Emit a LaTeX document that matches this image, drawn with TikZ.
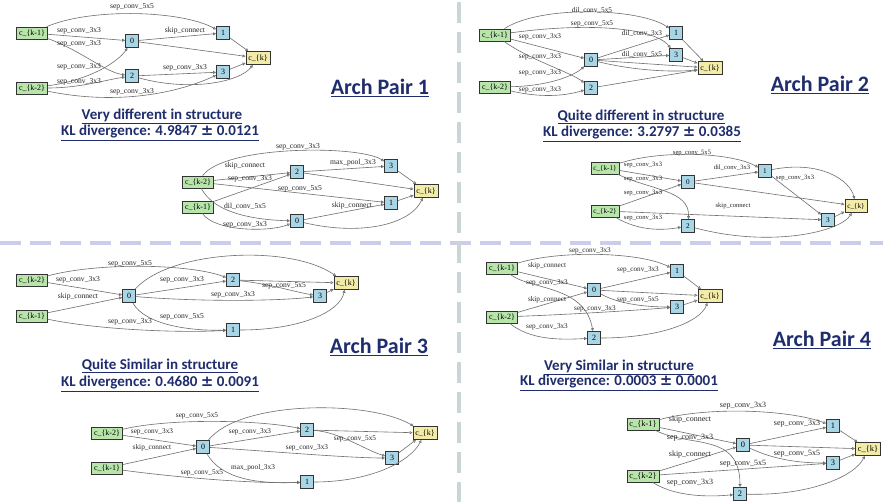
\documentclass[tikz,border=0pt]{standalone}
\usepackage{fontspec}
\setmainfont{Liberation Serif}
\newfontfamily\titlefont{Carlito}
\newfontfamily\pmfont{DejaVu Sans}
\usetikzlibrary{arrows.meta}
\definecolor{ingreen}{RGB}{184,230,170}
\definecolor{midblue}{RGB}{168,214,230}
\definecolor{outyellow}{RGB}{243,236,168}
\definecolor{edgegray}{RGB}{110,110,110}
\definecolor{navy}{RGB}{31,45,110}
\definecolor{sepcolh}{RGB}{202,206,236}
\definecolor{sepcolv}{RGB}{202,213,214}
\newcommand{\pmsign}{{\pmfont\bfseries ±}}
\def\gsz{7.5}
\def\nsz{8}
\tikzset{
  nbox/.style={draw=black!80, line width=0.7pt, inner xsep=2.5pt, inner ysep=0pt, minimum height=12, font=\fontsize{\nsz}{\nsz}\selectfont},
  inb/.style={nbox, fill=ingreen},
  midb/.style={nbox, fill=midblue, minimum width=13, minimum height=13},
  outb/.style={nbox, fill=outyellow, minimum height=13},
  edg/.style={draw=edgegray, line width=0.6pt, -{Triangle[open,length=3pt,width=3pt]}},
  lbl/.style={font=\fontsize{\gsz}{\gsz}\selectfont, inner sep=0pt, text=black!85},
  ttl/.style={font=\titlefont\bfseries\fontsize{22}{24}\selectfont, text=navy, inner sep=0pt},
  capt/.style={font=\titlefont\bfseries\fontsize{15}{17}\selectfont, text=navy, inner sep=0pt},
  sepline/.style={line width=4pt, dash pattern=on 21pt off 9pt}
}
\begin{document}
\begin{tikzpicture}[x=1pt,y=-1pt]
\useasboundingbox[fill=white] (0,0) rectangle (883,502);
\draw[sepline, draw=sepcolh] (0,243) -- (883,243);
\draw[sepline, draw=sepcolv] (459,2) -- (459,502);

% ---------- Pair 1 top ----------
\begin{scope}
\def\gsz{7.6}
\node[inb] (aK1) at (32,33) {c\_\{k-1\}};
\node[inb] (aK2) at (32,88) {c\_\{k-2\}};
\node[midb] (a0) at (132,41) {0};
\node[midb] (a1) at (223,33) {1};
\node[midb] (a2) at (132,76) {2};
\node[midb] (a3) at (223,72) {3};
\node[outb] (aK) at (258,58) {c\_\{k\}};
\draw[edg] (aK1) .. controls (90,8) and (180,10) .. (a1);
\draw[edg] (aK1) -- (a0);
\draw[edg] (aK1) .. controls (80,50) and (105,72) .. (a2);
\draw[edg] (aK2) .. controls (90,80) and (118,62) .. (a0);
\draw[edg] (aK2) .. controls (80,88) and (105,80) .. (a2);
\draw[edg] (aK2) .. controls (120,106) and (180,92) .. (a3);
\draw[edg] (a0) -- (a1);
\draw[edg] (a2) -- (a3);
\draw[edg] (a0) -- (aK);
\draw[edg] (a1) -- (aK);
\draw[edg] (a2) .. controls (190,92) and (240,82) .. (aK);
\draw[edg] (a3) -- (aK);
\node[lbl] (aL1) at (132,7) {sep\_conv\_5x5};
\node[lbl] (aL2) at (79,31) {sep\_conv\_3x3};
\node[lbl] (aL3) at (79,44) {sep\_conv\_3x3};
\node[lbl] (aL4) at (79,67) {sep\_conv\_3x3};
\node[lbl] (aL5) at (79,82) {sep\_conv\_3x3};
\node[lbl] (aL6) at (132,92) {sep\_conv\_3x3};
\node[lbl] (aL7) at (185,31) {skip\_connect};
\node[lbl] (aL8) at (185,68) {sep\_conv\_3x3};
\end{scope}

% ---------- Pair 1 bottom ----------
\begin{scope}
\def\gsz{7.6}
\node[inb] (bK2) at (198,182) {c\_\{k-2\}};
\node[inb] (bK1) at (198,207) {c\_\{k-1\}};
\node[midb] (b2) at (297,172) {2};
\node[midb] (b3) at (391,166) {3};
\node[midb] (b1) at (391,203) {1};
\node[midb] (b0) at (297,221) {0};
\node[outb] (bK) at (426,191) {c\_\{k\}};
\draw[edg] (bK2) .. controls (225,145) and (360,145) .. (b3);
\draw[edg] (bK2) -- (b2);
\draw[edg] (bK1) -- (b2);
\draw[edg] (bK2) -- (b1);
\draw[edg] (bK2) .. controls (215,215) and (260,220) .. (b0);
\draw[edg] (bK1) .. controls (215,232) and (270,232) .. (b0);
\draw[edg] (b2) -- (b3);
\draw[edg] (b0) -- (b1);
\draw[edg] (b2) -- (bK);
\draw[edg] (b3) -- (bK);
\draw[edg] (b1) -- (bK);
\draw[edg] (b0) .. controls (360,236) and (410,225) .. (bK);
\node[lbl] (bL1) at (298,147) {sep\_conv\_3x3};
\node[lbl] (bL2) at (245,166) {skip\_connect};
\node[lbl] (bL3) at (250,179) {sep\_conv\_3x3};
\node[lbl] (bL4) at (300,189) {sep\_conv\_5x5};
\node[lbl] (bL5) at (245,206) {dil\_conv\_5x5};
\node[lbl] (bL6) at (245,225) {sep\_conv\_3x3};
\node[lbl] (bL7) at (353,163) {max\_pool\_3x3};
\node[lbl] (bL8) at (352,206) {skip\_connect};
\end{scope}

% ---------- Pair 2 top ----------
\begin{scope}
\def\gsz{7.3}
\node[inb] (cK1) at (495,35) {c\_\{k-1\}};
\node[inb] (cK2) at (495,87) {c\_\{k-2\}};
\node[midb] (c0) at (591,60) {0};
\node[midb] (c1) at (676,33) {1};
\node[midb] (c3) at (676,55) {3};
\node[midb] (c2) at (591,88) {2};
\node[outb] (cK) at (710,68) {c\_\{k\}};
\draw[edg] (cK1) .. controls (540,5) and (640,8) .. (c1);
\draw[edg] (cK1) .. controls (590,22) and (655,28) .. (c3);
\draw[edg] (cK1) -- (c0);
\draw[edg] (cK1) .. controls (530,60) and (570,72) .. (c2);
\draw[edg] (cK2) .. controls (550,86) and (575,75) .. (c0);
\draw[edg] (cK2) .. controls (540,98) and (565,96) .. (c2);
\draw[edg] (c0) -- (c1);
\draw[edg] (c0) -- (c3);
\draw[edg] (c0) -- (cK);
\draw[edg] (c0) .. controls (640,72) and (680,72) .. (cK);
\draw[edg] (c1) -- (cK);
\draw[edg] (c3) -- (cK);
\draw[edg] (c2) -- (cK);
\node[lbl] (cL1) at (592,10) {dil\_conv\_5x5};
\node[lbl] (cL2) at (592,24) {sep\_conv\_5x5};
\node[lbl] (cL3) at (540,37) {sep\_conv\_3x3};
\node[lbl] (cL4) at (540,57) {sep\_conv\_3x3};
\node[lbl] (cL5) at (540,73) {sep\_conv\_3x3};
\node[lbl] (cL6) at (540,90) {sep\_conv\_3x3};
\node[lbl] (cL7) at (642,33) {dil\_conv\_3x3};
\node[lbl] (cL8) at (642,54) {dil\_conv\_5x5};
\end{scope}

% ---------- Pair 2 bottom ----------
\begin{scope}
\def\gsz{6.6}
\def\nsz{7.2}
\node[inb] (dK1) at (605,168) {c\_\{k-1\}};
\node[inb] (dK2) at (605,211) {c\_\{k-2\}};
\node[midb] (d0) at (688,182) {0};
\node[midb] (d1) at (765,171) {1};
\node[midb] (d3) at (828,220) {3};
\node[midb] (d2) at (688,226) {2};
\node[outb] (dK) at (856,206) {c\_\{k\}};
\draw[edg] (dK1) .. controls (660,150) and (730,152) .. (d1);
\draw[edg] (dK1) -- (d0);
\draw[edg] (dK1) .. controls (650,190) and (690,190) .. (d2);
\draw[edg] (dK2) -- (d0);
\draw[edg] (dK2) -- (d3);
\draw[edg] (dK2) .. controls (640,232) and (665,230) .. (d2);
\draw[edg] (d0) -- (d1);
\draw[edg] (d1) -- (d3);
\draw[edg] (d1) .. controls (820,160) and (850,180) .. (dK);
\draw[edg] (d0) -- (dK);
\draw[edg] (d3) -- (dK);
\draw[edg] (d2) .. controls (770,248) and (840,232) .. (dK);
\node[lbl] (dL1) at (692,153) {sep\_conv\_5x5};
\node[lbl] (dL2) at (643,165) {sep\_conv\_3x3};
\node[lbl] (dL3) at (643,179) {sep\_conv\_3x3};
\node[lbl] (dL4) at (643,193) {sep\_conv\_3x3};
\node[lbl] (dL5) at (733,206) {skip\_connect};
\node[lbl] (dL6) at (643,218) {sep\_conv\_3x3};
\node[lbl] (dL7) at (732,168) {dil\_conv\_3x3};
\node[lbl] (dL8) at (795,178) {sep\_conv\_3x3};
\end{scope}

% ---------- Pair 3 top ----------
\begin{scope}
\def\gsz{7.6}
\node[inb] (eK2) at (32,280) {c\_\{k-2\}};
\node[inb] (eK1) at (32,316) {c\_\{k-1\}};
\node[midb] (e0) at (129,296) {0};
\node[midb] (e2) at (233,280) {2};
\node[midb] (e3) at (320,296) {3};
\node[midb] (e1) at (233,330) {1};
\node[outb] (eK) at (346,283) {c\_\{k\}};
\draw[edg] (eK2) .. controls (100,262) and (190,264) .. (e2);
\draw[edg] (eK2) -- (e0);
\draw[edg] (eK1) -- (e0);
\draw[edg] (eK1) .. controls (100,330) and (180,333) .. (e1);
\draw[edg] (e0) .. controls (170,250) and (290,244) .. (eK);
\draw[edg] (e0) -- (e2);
\draw[edg] (e0) .. controls (200,302) and (280,301) .. (e3);
\draw[edg] (e0) .. controls (145,325) and (190,331) .. (e1);
\draw[edg] (e2) .. controls (270,284) and (295,292) .. (e3);
\draw[edg] (e2) -- (eK);
\draw[edg] (e3) -- (eK);
\draw[edg] (e1) .. controls (300,330) and (340,312) .. (eK);
\node[lbl] (eL1) at (130,264) {sep\_conv\_5x5};
\node[lbl] (eL2) at (78,280) {sep\_conv\_3x3};
\node[lbl] (eL3) at (78,297) {skip\_connect};
\node[lbl] (eL4) at (130,322) {sep\_conv\_3x3};
\node[lbl] (eL5) at (182,280) {sep\_conv\_3x3};
\node[lbl] (eL6) at (233,295) {sep\_conv\_3x3};
\node[lbl] (eL7) at (182,317) {sep\_conv\_5x5};
\node[lbl] (eL8) at (284,286) {sep\_conv\_5x5};
\end{scope}

% ---------- Pair 3 bottom ----------
\begin{scope}
\def\gsz{7.3}
\node[inb] (fK2) at (107,433) {c\_\{k-2\}};
\node[inb] (fK1) at (107,468) {c\_\{k-1\}};
\node[midb] (f0) at (203,447) {0};
\node[midb] (f2) at (307,430) {2};
\node[midb] (f3) at (392,458) {3};
\node[midb] (f1) at (307,482) {1};
\node[outb] (fK) at (425,433) {c\_\{k\}};
\draw[edg] (fK2) .. controls (170,418) and (260,420) .. (f2);
\draw[edg] (fK2) -- (f0);
\draw[edg] (fK1) -- (f0);
\draw[edg] (fK1) .. controls (180,478) and (260,484) .. (f1);
\draw[edg] (f0) .. controls (240,400) and (370,400) .. (fK);
\draw[edg] (f0) -- (f2);
\draw[edg] (f0) .. controls (280,452) and (350,458) .. (f3);
\draw[edg] (f0) .. controls (222,480) and (260,484) .. (f1);
\draw[edg] (f2) .. controls (340,432) and (365,450) .. (f3);
\draw[edg] (f2) -- (fK);
\draw[edg] (f3) -- (fK);
\draw[edg] (f1) .. controls (370,482) and (410,462) .. (fK);
\node[lbl] (fL1) at (197,416) {sep\_conv\_5x5};
\node[lbl] (fL2) at (152,432) {sep\_conv\_3x3};
\node[lbl] (fL3) at (152,448) {skip\_connect};
\node[lbl] (fL4) at (202,473) {sep\_conv\_5x5};
\node[lbl] (fL5) at (250,432) {sep\_conv\_3x3};
\node[lbl] (fL6) at (307,448) {sep\_conv\_3x3};
\node[lbl] (fL7) at (253,468) {max\_pool\_3x3};
\node[lbl] (fL8) at (355,439) {sep\_conv\_5x5};
\end{scope}

% ---------- Pair 4 top ----------
\begin{scope}
\def\gsz{7.2}
\node[inb] (gK1) at (502,268) {c\_\{k-1\}};
\node[inb] (gK2) at (502,317) {c\_\{k-2\}};
\node[midb] (g0) at (594,290) {0};
\node[midb] (g1) at (677,271) {1};
\node[midb] (g3) at (677,307) {3};
\node[midb] (g2) at (594,338) {2};
\node[outb] (gK) at (710,296) {c\_\{k\}};
\draw[edg] (gK1) .. controls (560,250) and (640,252) .. (g1);
\draw[edg] (gK1) -- (g0);
\draw[edg] (gK1) .. controls (530,290) and (585,285) .. (g2);
\draw[edg] (gK2) -- (g0);
\draw[edg] (gK2) .. controls (580,314) and (640,310) .. (g3);
\draw[edg] (gK2) .. controls (530,340) and (560,340) .. (g2);
\draw[edg] (g0) -- (g1);
\draw[edg] (g0) .. controls (620,305) and (650,307) .. (g3);
\draw[edg] (g0) -- (gK);
\draw[edg] (g1) -- (gK);
\draw[edg] (g3) -- (gK);
\draw[edg] (g2) .. controls (660,338) and (700,322) .. (gK);
\node[lbl] (gL1) at (590,251) {sep\_conv\_3x3};
\node[lbl] (gL2) at (547,266) {skip\_connect};
\node[lbl] (gL3) at (547,283) {sep\_conv\_3x3};
\node[lbl] (gL4) at (547,300) {skip\_connect};
\node[lbl] (gL5) at (595,309) {sep\_conv\_3x3};
\node[lbl] (gL6) at (547,327) {sep\_conv\_3x3};
\node[lbl] (gL7) at (638,270) {sep\_conv\_3x3};
\node[lbl] (gL8) at (638,300) {sep\_conv\_5x5};
\end{scope}

% ---------- Pair 4 bottom ----------
\begin{scope}
\def\gsz{8}
\def\nsz{8.4}
\node[inb] (hK1) at (643,424) {c\_\{k-1\}};
\node[inb] (hK2) at (643,476) {c\_\{k-2\}};
\node[midb] (h0) at (743,445) {0};
\node[midb] (h1) at (833,426) {1};
\node[midb] (h3) at (833,463) {3};
\node[midb] (h2) at (740,494) {2};
\node[outb] (hK) at (868,449) {c\_\{k\}};
\draw[edg] (hK1) .. controls (710,406) and (790,410) .. (h1);
\draw[edg] (hK1) -- (h0);
\draw[edg] (hK1) .. controls (690,448) and (740,432) .. (h2);
\draw[edg] (hK2) -- (h0);
\draw[edg] (hK2) -- (h3);
\draw[edg] (hK2) .. controls (675,497) and (710,497) .. (h2);
\draw[edg] (h0) -- (h1);
\draw[edg] (h0) .. controls (775,460) and (800,463) .. (h3);
\draw[edg] (h0) -- (hK);
\draw[edg] (h1) -- (hK);
\draw[edg] (h3) -- (hK);
\draw[edg] (h2) .. controls (810,496) and (855,476) .. (hK);
\node[lbl] (hL1) at (743,406) {sep\_conv\_3x3};
\node[lbl] (hL2) at (690,420) {skip\_connect};
\node[lbl] (hL3) at (690,438) {sep\_conv\_3x3};
\node[lbl] (hL4) at (690,455) {skip\_connect};
\node[lbl] (hL5) at (743,464) {sep\_conv\_5x5};
\node[lbl] (hL6) at (690,483) {sep\_conv\_3x3};
\node[lbl] (hL7) at (797,424) {sep\_conv\_3x3};
\node[lbl] (hL8) at (797,454) {sep\_conv\_5x5};
\end{scope}

% ---------- titles and captions ----------
\node[ttl] (t1) at (380,88) {\underline{Arch Pair 1}};
\node[ttl] (t2) at (820,85) {\underline{Arch Pair 2}};
\node[ttl] (t3) at (379,347) {\underline{Arch Pair 3}};
\node[ttl] (t4) at (822,340) {\underline{Arch Pair 4}};
\node[capt] (c1a) at (162,116) {\underline{Very different in structure}};
\node[capt] (c1b) at (160,133) {\underline{KL divergence: 4.9847 \pmsign\ 0.0121}};
\node[capt] (c2a) at (641,117) {\underline{Quite different in structure}};
\node[capt] (c2b) at (642,134) {\underline{KL divergence: 3.2797 \pmsign\ 0.0385}};
\node[capt] (c3a) at (160,366) {\underline{Quite Similar in structure}};
\node[capt] (c3b) at (160,384) {\underline{KL divergence: 0.4680 \pmsign\ 0.0091}};
\node[capt] (c4a) at (619,367) {\underline{Very Similar in structure}};
\node[capt] (c4b) at (619,383) {\underline{KL divergence: 0.0003 \pmsign\ 0.0001}};
\end{tikzpicture}
\end{document}
